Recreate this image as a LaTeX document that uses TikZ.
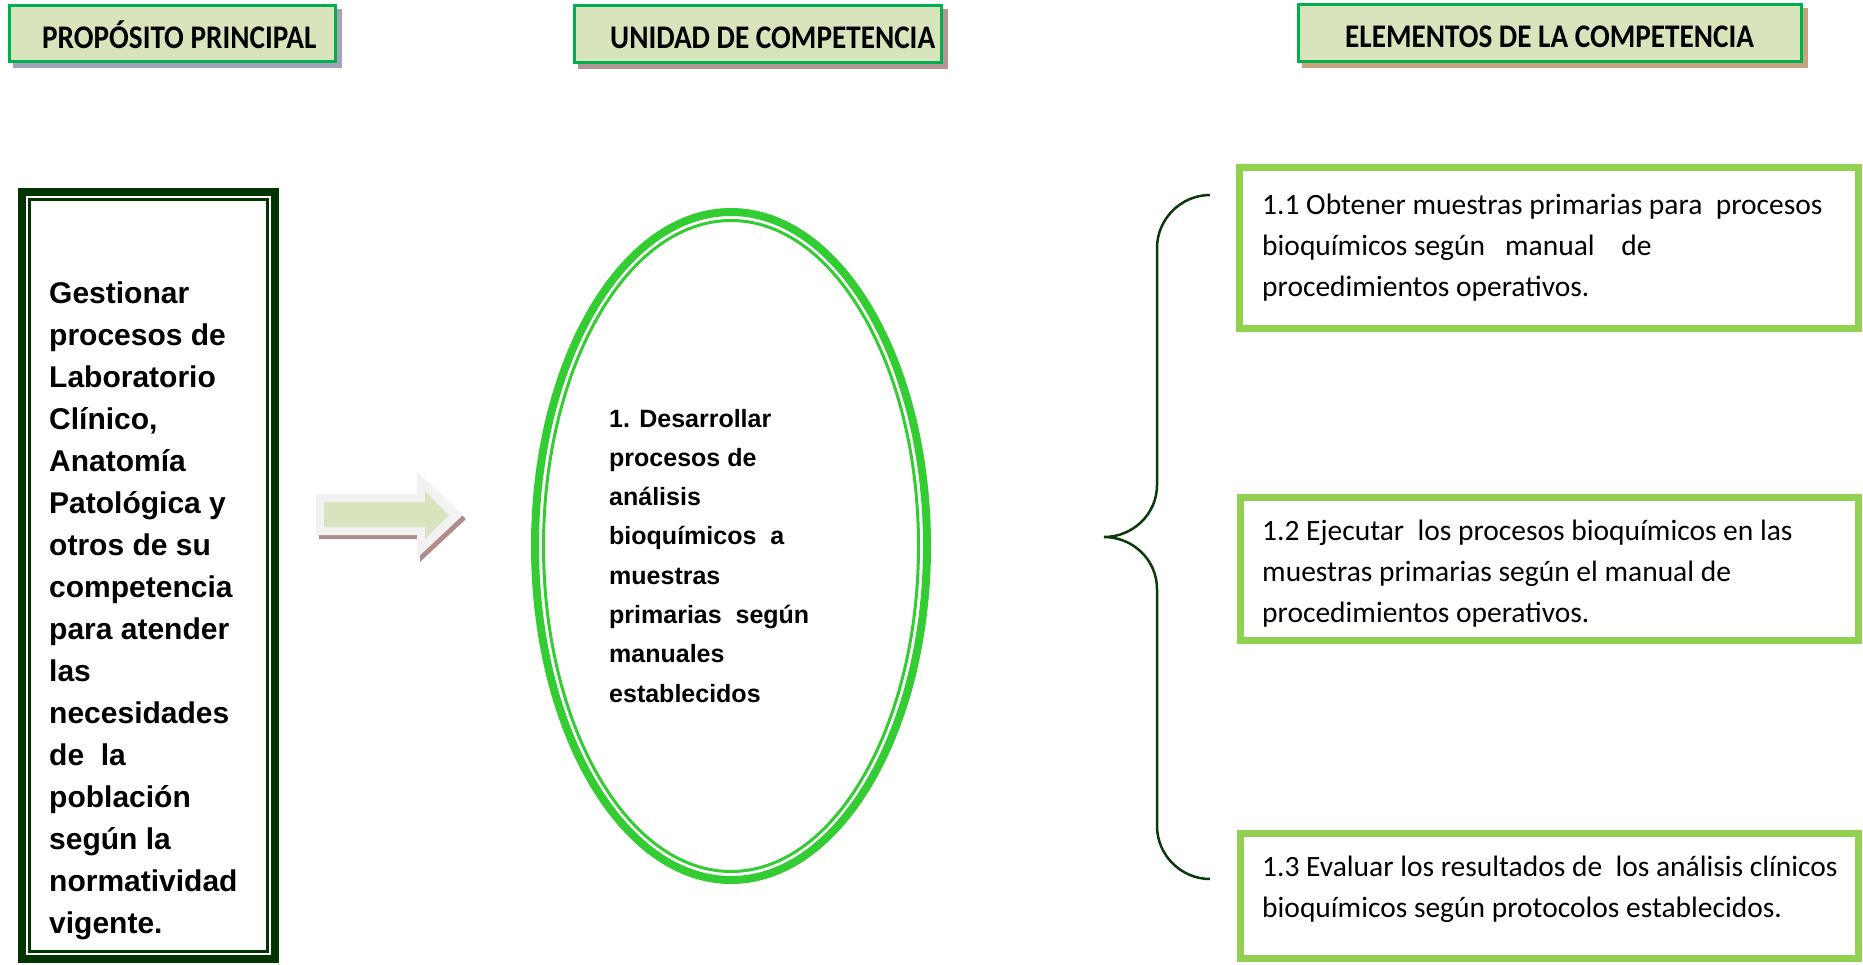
\documentclass[tikz,border=0pt]{standalone}
\usepackage{fontspec}
\usepackage{graphicx}
\setmainfont{Carlito}
\newfontfamily\arialf{Liberation Sans}
\usetikzlibrary{shapes.geometric}
\definecolor{hdrfill}{HTML}{D8E4BC}
\definecolor{hdrdraw}{HTML}{00B050}
\definecolor{shA}{HTML}{A4A4B6}
\definecolor{shB}{HTML}{B39595}
\definecolor{shC}{HTML}{C9A27E}
\definecolor{leftgreen}{HTML}{033503}
\definecolor{ellgreen}{HTML}{33CC33}
\definecolor{boxgreen}{HTML}{92D050}
\definecolor{arrfill}{HTML}{D7E4BD}
\definecolor{arrrim}{HTML}{F2F2F2}
\definecolor{arrsh}{HTML}{B08C8C}
\definecolor{bracec}{HTML}{0A3A0A}
\newcommand\mylines[1]{\vtop{\halign{##\hfil\cr#1\crcr}}}
\newcommand\hdrsq[1]{\scalebox{0.885}[1]{#1}}
\begin{document}
\begin{tikzpicture}[x=1pt,y=-1pt,
  hdrbox/.style={draw=hdrdraw, fill=hdrfill, line width=3pt, inner sep=0pt, outer sep=0pt},
  hdrshadow/.style={inner sep=0pt, outer sep=0pt},
  hdrtxt/.style={anchor=base west, inner sep=0pt, font=\bfseries\fontsize{33}{38}\selectfont},
  elbox/.style={draw=boxgreen, line width=7pt, inner sep=0pt, outer sep=0pt},
  eltxt/.style={anchor=base west, inner sep=0pt, font=\fontsize{29.5}{41}\selectfont},
  lefttxt/.style={anchor=base west, inner sep=0pt, font=\arialf\bfseries\fontsize{30}{42}\selectfont},
  elltxt/.style={anchor=base west, inner sep=0pt, font=\arialf\bfseries\fontsize{25}{39.3}\selectfont},
  ellring/.style={ellipse, draw=ellgreen, inner sep=0pt},
  bracestyle/.style={draw=bracec, line width=2.5pt}]
\useasboundingbox (0,0) rectangle (1863,964);
\fill[white] (0,0) rectangle (1863,964);

% headers
\node[hdrshadow, fill=shA, minimum width=329pt, minimum height=59pt] (h1s) at (177.5,38.5) {};
\node[hdrbox, minimum width=326pt, minimum height=56pt] (h1) at (172.5,33.5) {};
\node[hdrtxt] (h1t) at (42,48) {\hdrsq{PROPÓSITO PRINCIPAL}};

\node[hdrshadow, fill=shB, minimum width=370pt, minimum height=60pt] (h2s) at (763,39) {};
\node[hdrbox, minimum width=367pt, minimum height=57pt] (h2) at (758,34) {};
\node[hdrtxt] (h2t) at (610,48) {\hdrsq{UNIDAD DE COMPETENCIA}};

\node[hdrshadow, fill=shC, minimum width=506pt, minimum height=60pt] (h3s) at (1555,38) {};
\node[hdrbox, minimum width=503pt, minimum height=57pt] (h3) at (1550,33) {};
\node[hdrtxt] (h3t) at (1345,47) {\hdrsq{ELEMENTOS DE LA COMPETENCIA}};

% left box
\node[draw=leftgreen, line width=8pt, inner sep=0pt, minimum width=253pt, minimum height=767pt] (pp) at (148.5,575.5) {};
\node[draw=leftgreen, line width=3pt, inner sep=0pt, minimum width=238pt, minimum height=752pt] (ppi) at (148.5,575.5) {};
\node[lefttxt] (ppt) at (49,303) {\mylines{Gestionar\cr procesos de\cr Laboratorio\cr Clínico,\cr Anatomía\cr Patológica y\cr otros de su\cr competencia\cr para atender\cr las\cr necesidades\cr de\ \ la\cr población\cr según la\cr normatividad\cr vigente.}};

% arrow
\fill[arrsh] (319,498) -- (420,498) -- (420,476) -- (466,519) -- (420,562) -- (420,539) -- (319,539) -- cycle;
\fill[arrrim] (316,494) -- (417,494) -- (417,472) -- (463,515) -- (417,558) -- (417,535) -- (316,535) -- cycle;
\fill[arrfill] (324,502) -- (425,502) -- (425,491) -- (449,515) -- (425,539) -- (425,527) -- (324,527) -- cycle;

% ellipse
\node[ellring, line width=8pt, minimum width=392pt, minimum height=668pt] (uc) at (731,546) {};
\node[ellring, line width=3pt, minimum width=375pt, minimum height=651pt] (uci) at (731,546) {};
\node[elltxt] (uct) at (609,427) {\mylines{1. Desarrollar\cr procesos de\cr análisis\cr bioquímicos\ \ a\cr muestras\cr primarias\ \ según\cr manuales\cr establecidos}};

% brace
\coordinate (bt) at (1210,195);
\coordinate (bm) at (1104,537);
\coordinate (bb) at (1210,879);
\draw[bracestyle] (bt) .. controls (1181,195) and (1157,219) .. (1157,248) -- (1157,485)
  .. controls (1157,514) and (1133,537) .. (bm)
  .. controls (1133,537) and (1157,560) .. (1157,589) -- (1157,826)
  .. controls (1157,855) and (1181,879) .. (bb);

% element boxes
\node[elbox, minimum width=619pt, minimum height=161pt] (e1) at (1549,248) {};
\node[eltxt] (e1t) at (1262,214) {\mylines{1.1 Obtener muestras primarias para\ \ procesos\cr bioquímicos según\ \ \ manual\ \ \ \ de\cr procedimientos operativos.}};

\node[elbox, minimum width=618pt, minimum height=143pt] (e2) at (1549.5,569) {};
\node[eltxt] (e2t) at (1262,540) {\mylines{1.2 Ejecutar\ \ los procesos bioquímicos en las\cr muestras primarias según el manual de\cr procedimientos operativos.}};

\node[elbox, minimum width=618pt, minimum height=125pt] (e3) at (1549.5,896) {};
\node[eltxt] (e3t) at (1262,876) {\mylines{1.3 Evaluar los resultados de\ \ los análisis clínicos\cr bioquímicos según protocolos establecidos.}};
\end{tikzpicture}
\end{document}
